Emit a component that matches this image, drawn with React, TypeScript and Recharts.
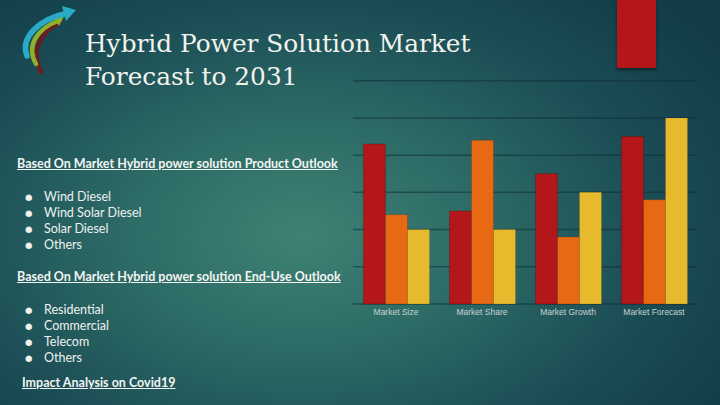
import React from 'react';
import { BarChart, Bar, XAxis, YAxis, CartesianGrid } from 'recharts';

// chart values (default 3-series layout from the slide)
const categories = ['Market Size', 'Market Share', 'Market Growth', 'Market Forecast'];
const series1 = [4.3, 2.5, 3.5, 4.5];
const series2 = [2.4, 4.4, 1.8, 2.8];
const series3 = [2, 2, 3, 5];
const yTicks = [0, 1, 2, 3, 4, 5, 6];

const productOutlook = ['Wind Diesel', 'Wind Solar Diesel', 'Solar Diesel', 'Others'];
const endUseOutlook = ['Residential', 'Commercial', 'Telecom', 'Others'];

const data = categories.map((name, i) => ({
    name,
    s1: series1[i],
    s2: series2[i],
    s3: series3[i],
}));

const sans = "Lato, 'Open Sans', sans-serif";

const Heading: React.FC<{ top: number; left: number; text: string }> = ({ top, left, text }) => (
    <div style={{
        position: 'absolute', top, left, fontFamily: sans, fontWeight: 700, fontSize: 12.5,
        lineHeight: '16px', color: '#f2f4f2', textDecoration: 'underline', whiteSpace: 'nowrap',
    }}>
        {text}
    </div>
);

const Bullets: React.FC<{ top: number; items: string[] }> = ({ top, items }) => (
    <div style={{ position: 'absolute', top, left: 25, fontFamily: sans, fontSize: 12.5, lineHeight: '16px', color: '#eef2ef' }}>
        {items.map(t => (
            <div key={t} style={{ display: 'flex', alignItems: 'center', whiteSpace: 'nowrap' }}>
                <span style={{ width: 19, fontSize: 8.5, fontFamily: "'DejaVu Sans', sans-serif" }}>●</span>
                <span>{t}</span>
            </div>
        ))}
    </div>
);

const Logo = () => (
    <svg width={80} height={80} style={{ position: 'absolute', left: 10, top: 0 }}>
        <path d="M31 72 C 20 52, 30 32, 50 22" stroke="#6b1c1c" strokeWidth={4.5} fill="none" strokeLinecap="round" />
        <path d="M26 64 C 16 46, 26 29, 50 20" stroke="#8db12c" strokeWidth={4.5} fill="none" strokeLinecap="round" />
        <path d="M44 19 L 54 16 L 49 26 Z" fill="#8db12c" />
        <path d="M17 56 C 10 38, 28 19, 58 13" stroke="#2aaac6" strokeWidth={5.5} fill="none" strokeLinecap="round" />
        <path d="M52 6 L 66 10 L 56 21 Z" fill="#2aaac6" />
    </svg>
);

export default function App() {
    return (
        <div style={{
            position: 'absolute', left: 0, top: 0, width: 720, height: 405, overflow: 'hidden',
            background: 'radial-gradient(ellipse 70% 80% at 42% 58%, #3f8274 0%, #2d6b66 35%, #1b4d55 70%, #113c48 100%)',
        }}>
            <Logo />
            <div style={{
                position: 'absolute', left: 85, top: 27, fontFamily: "'DejaVu Serif', serif", fontSize: 24.8,
                lineHeight: '33px', color: '#f3f3ee', whiteSpace: 'nowrap',
            }}>
                Hybrid Power Solution Market<br />Forecast to 2031
            </div>

            <Heading top={156} left={17} text="Based On Market Hybrid power solution Product Outlook" />
            <Bullets top={189} items={productOutlook} />
            <Heading top={269} left={17} text="Based On Market Hybrid power solution End-Use Outlook" />
            <Bullets top={302} items={endUseOutlook} />
            <Heading top={375} left={22} text="Impact Analysis on Covid19" />

            <div style={{
                position: 'absolute', left: 617, top: 0, width: 39, height: 68, background: '#b3171a',
                boxShadow: '0 2px 3px rgba(0,0,0,0.45)',
            }} />

            <div style={{ position: 'absolute', left: 340, top: 60 }}>
                <BarChart
                    width={380}
                    height={270}
                    data={data}
                    margin={{ top: 20.7, right: 23, left: 13, bottom: 6 }}
                    barCategoryGap="12.2%"
                    barGap={0}
                >
                    <CartesianGrid
                        vertical={false}
                        stroke="rgba(12,42,48,0.5)"
                        strokeWidth={1.5}
                    />
                    <YAxis hide domain={[0, 6]} ticks={yTicks} />
                    <XAxis
                        dataKey="name"
                        height={20}
                        axisLine={false}
                        tickLine={false}
                        tickMargin={-1}
                        tick={{ fill: '#c7d4d3', fontSize: 8.5, fontFamily: "'Liberation Sans', Arial, sans-serif" }}
                        interval={0}
                    />
                    <Bar dataKey="s1" fill="#b3171a" stroke="rgba(60,10,10,0.5)" strokeWidth={0.5} isAnimationActive={false} />
                    <Bar dataKey="s2" fill="#e86914" stroke="rgba(80,30,0,0.4)" strokeWidth={0.5} isAnimationActive={false} />
                    <Bar dataKey="s3" fill="#e7b92d" stroke="rgba(80,60,0,0.3)" strokeWidth={0.5} isAnimationActive={false} />
                </BarChart>
            </div>
        </div>
    );
}
